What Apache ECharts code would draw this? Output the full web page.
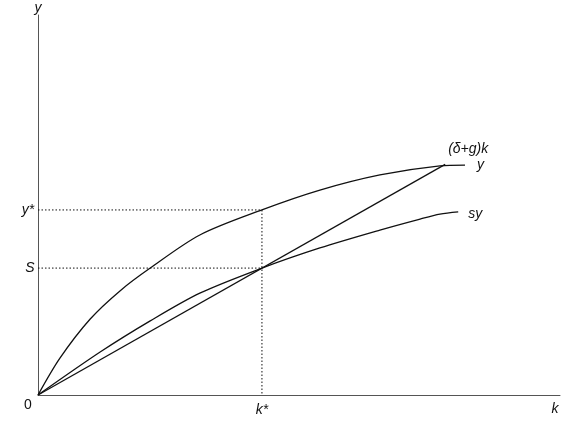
<!DOCTYPE html>
<html><head><meta charset="utf-8">
<script src="https://cdn.jsdelivr.net/npm/echarts@6/dist/echarts.min.js"></script>
<style>html,body{margin:0;padding:0;background:#fff}#c{width:573px;height:428px}</style>
</head><body><div id="c"></div>
<script>
const kStar = 42.9, yStar = 48.7, sStar = 33.4;
const yCurve = [[0,0],[4.2,9.7],[10,20],[15.7,27.4],[21.5,33.4],[31,42.1],[42.9,48.7],[54,53.9],[65.5,57.9],[77,60.3],[81.8,60.5]];
const syCurve = [[0,0],[11.9,11.3],[21.5,19.5],[31,26.8],[42.9,33.4],[54,38.7],[65.5,43.4],[73.2,46.3],[77,47.6],[80.5,48.2]];
const lineK = [[0,0],[78,60.7]];
const chart = echarts.init(document.getElementById('c'));
const solid = {color:'#111',width:1.3};
const dot = {color:'#111',width:1,type:[1.5,2]};
chart.setOption({
  animation:false,
  grid:{left:38,right:13,top:15,bottom:33},
  xAxis:{type:'value',min:0,max:100,axisLine:{lineStyle:{color:'#555'}},axisTick:{show:false},axisLabel:{show:false},splitLine:{show:false}},
  yAxis:{type:'value',min:0,max:100,axisLine:{show:true,lineStyle:{color:'#555'}},axisTick:{show:false},axisLabel:{show:false},splitLine:{show:false}},
  series:[
    {type:'line',data:yCurve,smooth:0.3,symbol:'none',lineStyle:solid},
    {type:'line',data:syCurve,smooth:0.3,symbol:'none',lineStyle:solid},
    {type:'line',data:lineK,symbol:'none',lineStyle:solid},
    {type:'line',data:[[0,yStar],[kStar,yStar],[kStar,0]],symbol:'none',lineStyle:dot},
    {type:'line',data:[[0,sStar],[kStar,sStar]],symbol:'none',lineStyle:dot}
  ]
});
const p = (x,y)=>chart.convertToPixel({gridIndex:0},[x,y]);
const f = {fontFamily:'Liberation Sans',fontSize:14,fontStyle:'italic',fill:'#111'};
function t(txt,pt,dx,dy,align){return {type:'text',x:pt[0]+dx,y:pt[1]+dy,style:Object.assign({text:txt,textAlign:align||'center',textVerticalAlign:'middle'},f)};}
chart.setOption({graphic:[
  t('y',p(0,100),0,-7),
  t('k',p(100,0),-5,14),
  Object.assign(t('0',p(0,0),-10,10),{style:Object.assign({text:'0',textAlign:'center',textVerticalAlign:'middle'},f,{fontStyle:'normal'})}),
  t('k*',p(kStar,0),0,15),
  t('y*',p(0,yStar),-10,0),
  t('S',p(0,sStar),-8,0),
  t('y',p(81.8,60.5),12,0,'left'),
  t('sy',p(80.5,48.2),10,2,'left'),
  t('(δ+g)k',p(78,60.7),3,-15,'left')
]});
</script></body></html>
